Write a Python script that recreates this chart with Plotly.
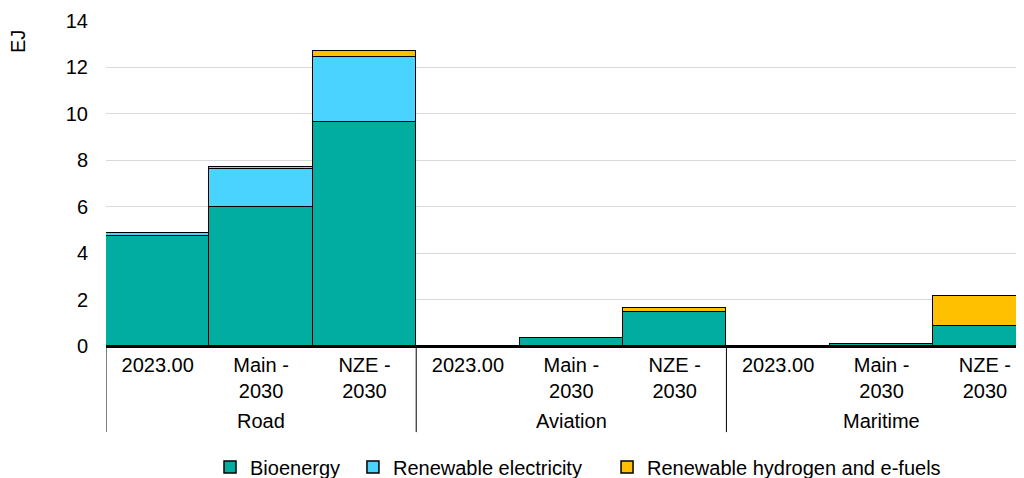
import plotly.graph_objects as go

groups = ["Road", "Aviation", "Maritime"]
cases = ["2023.00", "Main -<br>2030", "NZE -<br>2030"]
keys = [f"{g}|{c}" for g in groups for c in cases]
tick_labels = [c for g in groups for c in cases]

bioenergy = [4.74, 6.0, 9.66, 0.02, 0.33, 1.48, 0.01, 0.09, 0.86]
electricity = [0.12, 1.63, 2.8, 0.0, 0.0, 0.0, 0.0, 0.0, 0.0]
hydrogen = [0.01, 0.1, 0.26, 0.0, 0.0, 0.17, 0.0, 0.01, 1.28]

series = [
    ("Bioenergy", bioenergy, "#00ADA0", "legend", 0.1133),
    ("Renewable electricity", electricity, "#4AD3FF", "legend2", 0.269),
    ("Renewable hydrogen and e-fuels", hydrogen, "#FFC000", "legend3", 0.5458),
]

FONT = "Liberation Sans, Arial, sans-serif"
FS = 20

fig = go.Figure()
legends = {}
for name, vals, color, lg, lx in series:
    fig.add_trace(go.Bar(
        x=keys, y=vals, name=name, legend=lg,
        marker=dict(color=color, line=dict(color="black", width=1.5)),
    ))
    legends[lg] = dict(orientation="h", x=lx, xanchor="left", y=-0.372, yanchor="middle",
                       font=dict(size=FS), bgcolor="rgba(0,0,0,0)")

# page body adds an 8px offset, so the figure is 1016x470 inside the 1024x478 window
fig.update_layout(
    width=1016, height=470,
    margin=dict(l=98, r=0, t=13, b=132, autoexpand=False),
    barmode="stack", bargap=0,
    plot_bgcolor="white", paper_bgcolor="white",
    font=dict(family=FONT, size=FS, color="black"),
    showlegend=True,
    **legends,
)
fig.update_xaxes(
    type="category", range=[-0.5, 8.378], automargin=False,
    tickmode="array", tickvals=keys, ticktext=tick_labels,
    showline=True, linecolor="black", linewidth=2,
    ticks="outside", tickcolor="rgba(0,0,0,0)", ticklen=0,
    tickfont=dict(size=FS), tickangle=0,
)
fig.update_yaxes(
    range=[0, 14], dtick=2, showgrid=True, gridcolor="#d9d9d9", gridwidth=1,
    zeroline=False, showline=False, ticks="outside", tickcolor="rgba(0,0,0,0)", ticklen=13,
    tickfont=dict(size=FS), automargin=False,
)

# group labels and dividers
n = len(cases)
for i, g in enumerate(groups):
    fig.add_annotation(text=g, xref="x", yref="paper", x=i * n + (n - 1) / 2, y=-0.231,
                       yanchor="middle", showarrow=False, font=dict(size=FS))
for i in range(len(groups) + 1):
    fig.add_shape(type="line", xref="x", yref="paper", x0=i * n - 0.5, x1=i * n - 0.5,
                  y0=0, y1=-0.265, line=dict(color="black", width=1))

fig.add_annotation(text="EJ", textangle=-90, xref="paper", yref="paper",
                   x=-0.0959, y=0.938, xanchor="center", yanchor="middle",
                   showarrow=False, font=dict(size=FS))

fig.write_html("out.html")
